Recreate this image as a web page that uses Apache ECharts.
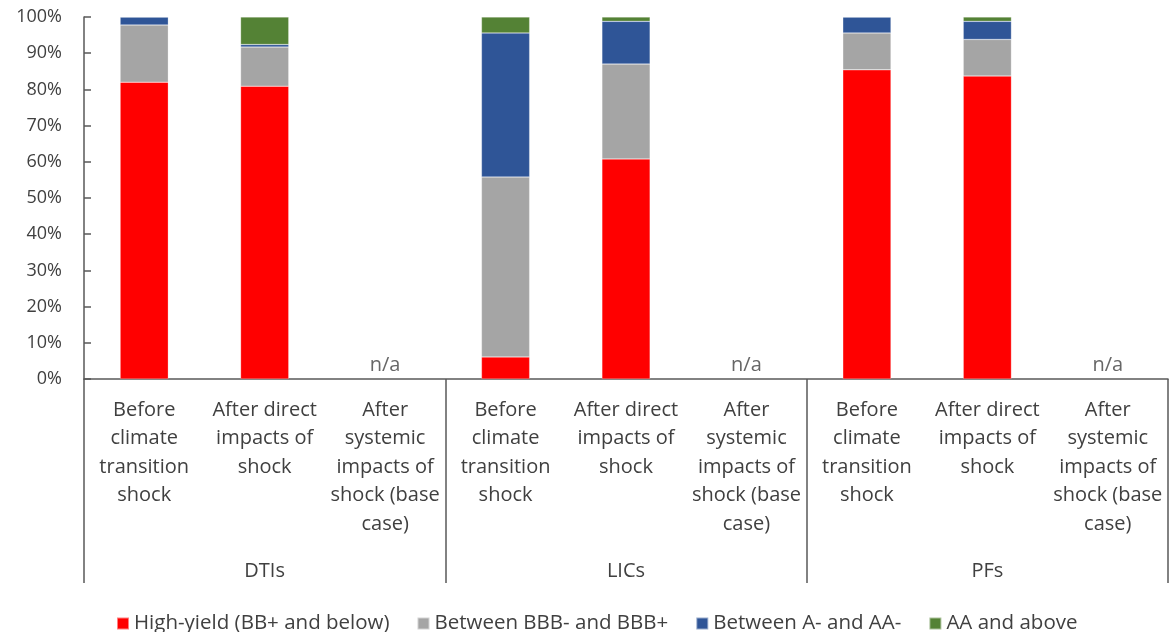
<!DOCTYPE html>
<html>
<head>
<meta charset="utf-8">
<script src="https://cdn.jsdelivr.net/npm/echarts@6/dist/echarts.min.js"></script>
<style>
  html, body { margin: 0; padding: 0; background: #fff; }
  #chart { width: 1170px; height: 632px; }
</style>
</head>
<body>
<div id="chart"></div>
<script>
// Rating split of exposures, share of total (%)
const groups = ['DTIs', 'LICs', 'PFs'];
const stages = [
  'Before\nclimate\ntransition\nshock',
  'After direct\nimpacts of\nshock',
  'After\nsystemic\nimpacts of\nshock (base\ncase)'
];
const seriesNames = ['High-yield (BB+ and below)', 'Between BBB- and BBB+', 'Between A- and AA-', 'AA and above'];
const seriesColors = ['#FF0000', '#A5A5A5', '#2F5597', '#548235'];

// one value per (group, stage); null where no figure is available
const highYield = [82.0, 80.9, null, 6.1, 60.8, null, 85.4, 83.7, null];
const bbb       = [15.8, 10.8, null, 49.7, 26.2, null, 10.2, 10.1, null];
const singleA   = [ 2.2,  0.7, null, 39.8, 11.8, null,  4.4,  5.0, null];
const aaPlus    = [ 0.0,  7.6, null,  4.4,  1.2, null,  0.0,  1.2, null];
const naLabel = 'n/a';

const categories = [];
groups.forEach(() => stages.forEach(s => categories.push(s)));
const values = [highYield, bbb, singleA, aaPlus];
const naPoints = [];
highYield.forEach((v, i) => { if (v === null) naPoints.push([i, 0]); });

const textColor = '#404040';
const lineColor = '#595959';
const font = '"Open Sans", "Noto Sans", sans-serif';

const chart = echarts.init(document.getElementById('chart'));
chart.setOption({
  animation: false,
  textStyle: { fontFamily: font, color: textColor },
  grid: { left: 84, right: 2, top: 17, bottom: 253, containLabel: false },
  legend: {
    data: seriesNames,
    top: 608,
    left: 111,
    itemWidth: 12,
    itemHeight: 12,
    itemGap: 27,
    icon: 'rect',
    textStyle: { fontSize: 20.5, color: textColor, fontFamily: font }
  },
  xAxis: [
    {
      type: 'category',
      data: categories,
      position: 'bottom',
      axisLine: { show: true, lineStyle: { color: lineColor, width: 1.5 } },
      axisTick: { show: false },
      axisLabel: {
        interval: 0,
        fontSize: 20,
        lineHeight: 28.5,
        color: textColor,
        margin: 17
      }
    },
    {
      type: 'category',
      data: groups,
      position: 'bottom',
      axisLine: { show: false },
      axisTick: { show: true, length: 204, lineStyle: { color: lineColor, width: 1.5 } },
      axisLabel: { fontSize: 20, color: textColor, margin: 182 },
      splitLine: { show: false }
    }
  ],
  yAxis: {
    type: 'value',
    min: 0,
    max: 100,
    interval: 10,
    axisLine: { show: true, lineStyle: { color: lineColor, width: 1.5 } },
    axisTick: { show: true, inside: true, length: 7, lineStyle: { color: lineColor, width: 1.5 } },
    splitLine: { show: false },
    axisLabel: { formatter: '{value}%', fontSize: 18, color: textColor, margin: 22 }
  },
  series: seriesNames.map((name, k) => ({
    name: name,
    type: 'bar',
    stack: 'total',
    xAxisIndex: 0,
    barWidth: '40%',
    itemStyle: { color: seriesColors[k], borderColor: 'rgba(255,255,255,0.5)', borderWidth: 0.5 },
    data: values[k]
  })).concat([{
    name: 'na',
    type: 'scatter',
    xAxisIndex: 0,
    symbolSize: 0,
    silent: true,
    data: naPoints,
    label: {
      show: true,
      position: 'top',
      distance: 4,
      formatter: naLabel,
      fontSize: 20,
      color: textColor,
      fontFamily: font
    }
  }])
});
</script>
</body>
</html>
